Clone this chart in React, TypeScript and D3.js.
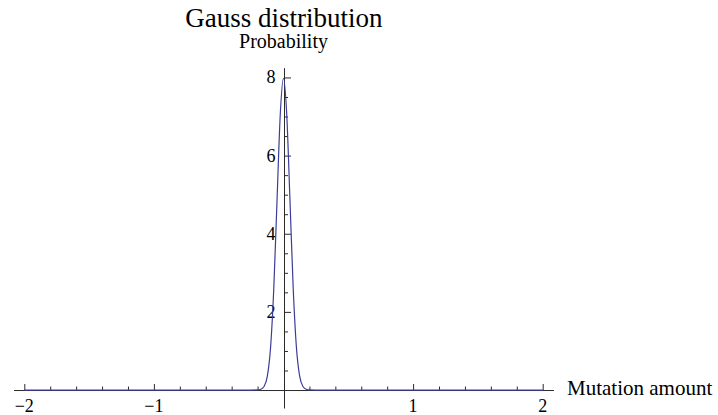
import { useEffect, useRef } from "react";
import * as d3 from "d3";

// curve points (mutation amount -> probability)
const gaussX = [-2, -0.25, -0.2, -0.175, -0.15, -0.125, -0.1, -0.075, -0.05, -0.025, 0, 0.025, 0.05, 0.075, 0.1, 0.125, 0.15, 0.175, 0.2, 0.25, 2];
const gaussY = [0, 0, 0.003, 0.02, 0.09, 0.35, 1.08, 2.6, 4.85, 7.05, 7.98, 7.05, 4.85, 2.6, 1.08, 0.35, 0.09, 0.02, 0.003, 0, 0];

const xMajor = [-2, -1, 1, 2];
const xMinor = [-1.8, -1.6, -1.4, -1.2, -0.8, -0.6, -0.4, -0.2, 0.2, 0.4, 0.6, 0.8, 1.2, 1.4, 1.6, 1.8];
const yMajor = [2, 4, 6, 8];
const yMinor = [0.5, 1, 1.5, 2.5, 3, 3.5, 4.5, 5, 5.5, 6.5, 7, 7.5];

const title = "Gauss distribution";
const yLabel = "Probability";
const xLabel = "Mutation amount";

const App = () => {
  const svgRef = useRef<SVGSVGElement>(null);

  useEffect(() => {
    const w = 718;
    const h = 415;
    const svg = d3.select(svgRef.current).attr("width", w).attr("height", h);
    svg.selectAll("*").remove();

    const font = "Liberation Serif, Times New Roman, serif";
    const axisColor = "#2a2a2a";
    const fmt = d3.format("d");

    // scales
    const x = d3.scaleLinear().domain([-2.083, 2.083]).range([13.54, 553.46]);
    const y = d3.scaleLinear().domain([-0.46, 8.25]).range([408, 67.7]);

    const x0 = x(0);
    const y0 = y(0);

    // x axis, ticks pointing up
    const xAxis = svg.append("g").attr("transform", `translate(0,${y0})`);
    xAxis.call(d3.axisBottom(x).tickValues(xMajor).tickSizeInner(-6).tickSizeOuter(0).tickFormat(() => ""));
    const xMinorG = svg.append("g").attr("transform", `translate(0,${y0})`);
    xMinorG.call(d3.axisBottom(x).tickValues(xMinor).tickSizeInner(-3.5).tickSizeOuter(0).tickFormat(() => ""));
    xMinorG.select(".domain").remove();

    // y axis, ticks pointing right
    const yAxis = svg.append("g").attr("transform", `translate(${x0 + 0.5},0)`);
    yAxis.call(d3.axisLeft(y).tickValues(yMajor).tickSizeInner(-7).tickSizeOuter(0).tickFormat(() => ""));
    const yMinorG = svg.append("g").attr("transform", `translate(${x0 + 0.5},0)`);
    yMinorG.call(d3.axisLeft(y).tickValues(yMinor).tickSizeInner(-4).tickSizeOuter(0).tickFormat(() => ""));
    yMinorG.select(".domain").remove();

    svg.selectAll("path.domain").attr("stroke", axisColor).attr("stroke-width", 1);
    svg.selectAll("g.tick line").attr("stroke", axisColor).attr("stroke-width", 1);

    // tick labels
    svg.append("g")
      .selectAll("text")
      .data(xMajor)
      .join("text")
      .attr("x", d => x(d))
      .attr("y", y0 + 22)
      .attr("text-anchor", "middle")
      .attr("font-family", font)
      .attr("font-size", 18)
      .attr("fill", "#000")
      .text(d => fmt(d));

    svg.append("g")
      .selectAll("text")
      .data(yMajor)
      .join("text")
      .attr("x", x0 - 8)
      .attr("y", d => y(d) + 6)
      .attr("text-anchor", "end")
      .attr("font-family", font)
      .attr("font-size", 18)
      .attr("fill", "#000")
      .text(d => fmt(d));

    // curve
    const pts = gaussX.map((v, i) => [v, gaussY[i]] as [number, number]);
    const line = d3.line<[number, number]>()
      .x(d => x(d[0]))
      .y(d => y(d[1]))
      .curve(d3.curveMonotoneX);

    svg.append("path")
      .datum(pts)
      .attr("d", line)
      .attr("fill", "none")
      .attr("stroke", "#3d3d99")
      .attr("stroke-width", 1.2);

    // texts
    svg.append("text")
      .attr("x", 284)
      .attr("y", 27)
      .attr("text-anchor", "middle")
      .attr("font-family", font)
      .attr("font-size", 27)
      .text(title);

    svg.append("text")
      .attr("x", x0)
      .attr("y", 48)
      .attr("text-anchor", "middle")
      .attr("font-family", font)
      .attr("font-size", 20)
      .text(yLabel);

    svg.append("text")
      .attr("x", 567)
      .attr("y", 395)
      .attr("font-family", font)
      .attr("font-size", 21)
      .text(xLabel);
  }, []);

  return (
    <svg ref={svgRef} style={{ position: "absolute", left: 0, top: 0, background: "#fff" }}></svg>
  );
};

export default App;
